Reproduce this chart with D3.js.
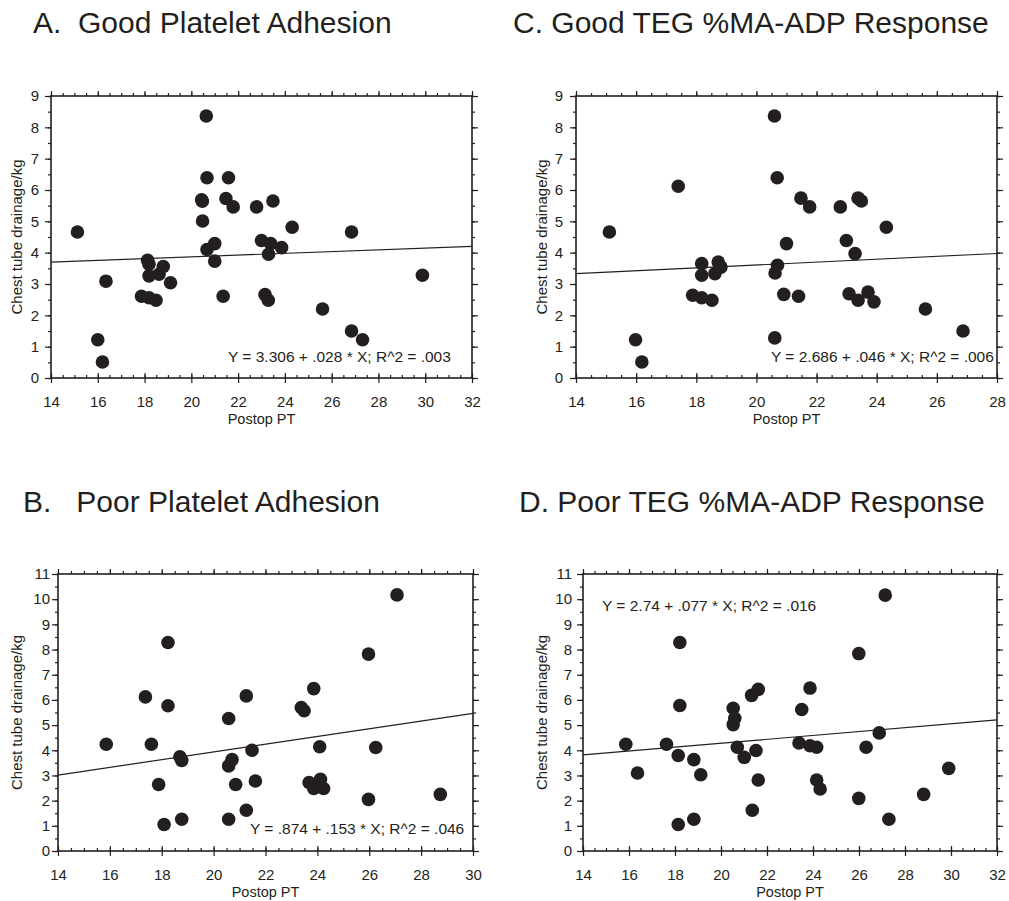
<!DOCTYPE html>
<html>
<head>
<meta charset="utf-8">
<script src="https://cdn.jsdelivr.net/npm/d3@7"></script>
<style>
body { margin: 0; background: #fff; }
svg { display: block; font-family: "Liberation Sans", Arial, sans-serif; }
</style>
</head>
<body>
<svg id="chart" width="1009" height="901"></svg>
<script>
// titles and labels
var titles = ["A.  Good Platelet Adhesion", "C. Good TEG %MA-ADP Response",
              "B.   Poor Platelet Adhesion", "D. Poor TEG %MA-ADP Response"];
var xLabel = "Postop PT";
var yLabel = "Chest tube drainage/kg";

// A. good platelet adhesion
var aX = [15.13, 16.0, 16.2, 16.35, 17.87, 18.13, 18.19, 18.19, 18.19, 18.49, 18.62, 18.8, 19.11,
          20.47, 20.44, 20.48, 20.64, 20.67, 20.67, 21.0, 21.0, 21.36, 21.48, 21.59, 21.79, 22.79,
          23.0, 23.15, 23.29, 23.39, 23.3, 23.49, 23.86, 24.31, 25.61, 26.85, 26.85, 27.32, 29.88];
var aY = [4.66, 1.22, 0.51, 3.09, 2.61, 3.76, 3.63, 3.26, 2.56, 2.48, 3.31, 3.56, 3.04,
          5.64, 5.69, 5.01, 8.36, 6.39, 4.10, 4.29, 3.73, 2.61, 5.73, 6.39, 5.46, 5.46,
          4.39, 2.66, 2.48, 4.29, 3.95, 5.65, 4.16, 4.81, 2.2, 4.66, 1.5, 1.22, 3.28];

// C. good TEG response
var cX = [15.11, 15.98, 16.19, 17.4, 17.88, 18.18, 18.18, 18.18, 18.52, 18.62, 18.73, 18.82,
          20.6, 20.62, 20.7, 20.69, 20.61, 20.91, 21.0, 21.4, 21.48, 21.77, 22.79, 22.99, 23.08,
          23.28, 23.38, 23.38, 23.49, 23.71, 23.91, 24.32, 25.62, 26.87];
var cY = [4.66, 1.22, 0.51, 6.12, 2.64, 3.65, 3.28, 2.56, 2.48, 3.33, 3.7, 3.54,
          8.36, 3.35, 3.6, 6.39, 1.28, 2.67, 4.29, 2.61, 5.74, 5.46, 5.46, 4.39, 2.69,
          3.97, 2.48, 5.74, 5.65, 2.74, 2.43, 4.81, 2.2, 1.5];

// B. poor platelet adhesion
var bX = [15.86, 17.37, 17.6, 17.88, 18.09, 18.24, 18.24, 18.7, 18.77, 18.77, 20.58, 20.58,
          20.71, 20.58, 20.85, 21.26, 21.26, 21.48, 21.61, 23.38, 23.49, 23.68, 23.86, 23.86,
          24.09, 24.12, 24.24, 25.97, 25.97, 26.25, 27.07, 28.74];
var bY = [4.24, 6.12, 4.24, 2.64, 1.05, 8.28, 5.77, 3.74, 3.6, 1.26, 5.26, 3.38,
          3.63, 1.26, 2.64, 6.16, 1.62, 4.0, 2.78, 5.7, 5.57, 2.72, 6.45, 2.48,
          4.14, 2.85, 2.48, 2.05, 7.82, 4.11, 10.17, 2.25];

// D. poor TEG response
var dX = [15.86, 16.37, 17.63, 18.14, 18.21, 18.21, 18.14, 18.82, 18.82, 19.12, 20.53, 20.6,
          20.53, 20.71, 21.01, 21.33, 21.62, 21.36, 21.52, 21.62, 23.39, 23.51, 23.87, 23.87,
          24.16, 24.16, 24.31, 25.99, 25.99, 26.31, 26.88, 27.14, 27.3, 28.81, 29.9];
var dY = [4.24, 3.1, 4.24, 3.79, 8.28, 5.78, 1.05, 3.63, 1.26, 3.03, 5.67, 5.27,
          5.02, 4.12, 3.72, 6.18, 6.42, 1.62, 3.99, 2.82, 4.29, 5.62, 6.47, 4.18,
          4.12, 2.82, 2.46, 7.84, 2.09, 4.12, 4.69, 10.16, 1.26, 2.25, 3.28];

// fitted lines
var intercepts = [3.306, 2.686, 0.874, 2.74];
var slopes = [0.028, 0.046, 0.153, 0.077];
var equations = ["Y = 3.306 + .028 * X; R^2 = .003", "Y = 2.686 + .046 * X; R^2 = .006",
                 "Y = .874 + .153 * X; R^2 = .046", "Y = 2.74 + .077 * X; R^2 = .016"];

var xDomains = [[14, 32], [14, 28], [14, 30], [14, 32]];
var yDomains = [[0, 9], [0, 9], [0, 11], [0, 11]];

var xs = [aX, cX, bX, dX];
var ys = [aY, cY, bY, dY];

// where each panel sits on the page
var layout = [
  {left: 51, right: 472, top: 96, bottom: 378, titleX: 33, titleY: 33, yPad: 6, yLabX: 22, eqX: 228, eqY: 362},
  {left: 576, right: 997, top: 96, bottom: 378, titleX: 513, titleY: 33, yPad: 7, yLabX: 547, eqX: 771, eqY: 362},
  {left: 58, right: 473, top: 574, bottom: 851, titleX: 23, titleY: 512, yPad: 2, yLabX: 22, eqX: 250, eqY: 834},
  {left: 583, right: 997, top: 574, bottom: 851, titleX: 519, titleY: 512, yPad: 5, yLabX: 547, eqX: 602, eqY: 611}
];

var ink = "#231f20";
var svg = d3.select("#chart");

function styleAxis(g) {
  g.attr("font-family", null).attr("font-size", 15);
  g.select(".domain").remove();
  g.selectAll("line").attr("stroke", ink).attr("stroke-width", 1.2);
  g.selectAll("text").attr("fill", ink);
}

layout.forEach(function (p, i) {
  var w = p.right - p.left, h = p.bottom - p.top;
  var x = d3.scaleLinear().domain(xDomains[i]).range([0, w]);
  var y = d3.scaleLinear().domain(yDomains[i]).range([h, 0]);
  var xMajor = d3.range(xDomains[i][0], xDomains[i][1] + 0.01, 2);
  var xMinor = d3.range(xDomains[i][0], xDomains[i][1] + 0.01, 0.5);
  var yMajor = d3.range(yDomains[i][0], yDomains[i][1] + 0.01, 1);
  var yMinor = d3.range(yDomains[i][0], yDomains[i][1] + 0.01, 0.5);

  // title
  svg.append("text")
    .attr("x", p.titleX).attr("y", p.titleY)
    .attr("xml:space", "preserve").style("white-space", "pre")
    .attr("font-size", 30).attr("fill", ink)
    .text(titles[i]);

  var g = svg.append("g").attr("transform", "translate(" + p.left + "," + p.top + ")");

  // bottom axis: inner minor ticks, crossing major ticks with labels
  g.append("g").attr("transform", "translate(0," + h + ")")
    .call(d3.axisBottom(x).tickValues(xMinor).tickSize(-3).tickFormat(""))
    .call(styleAxis);
  g.append("g").attr("transform", "translate(0," + h + ")")
    .call(d3.axisBottom(x).tickValues(xMajor).tickSize(-5).tickFormat(""))
    .call(styleAxis);
  g.append("g").attr("transform", "translate(0," + h + ")")
    .call(d3.axisBottom(x).tickValues(xMajor).tickSize(5).tickPadding(13).tickFormat(d3.format("d")))
    .call(styleAxis);

  // top axis
  g.append("g").call(d3.axisTop(x).tickValues(xMinor).tickSize(3).tickFormat("")).call(styleAxis);
  g.append("g").call(d3.axisTop(x).tickValues(xMajor).tickSize(5).tickFormat("")).call(styleAxis);

  // left axis
  g.append("g").call(d3.axisLeft(y).tickValues(yMinor).tickSize(3).tickFormat("")).call(styleAxis);
  g.append("g").call(d3.axisLeft(y).tickValues(yMajor).tickSize(6).tickPadding(p.yPad).tickFormat(d3.format("d")))
    .call(styleAxis);

  // right axis
  g.append("g").attr("transform", "translate(" + w + ",0)")
    .call(d3.axisRight(y).tickValues(yMinor).tickSize(3).tickFormat("")).call(styleAxis);
  g.append("g").attr("transform", "translate(" + w + ",0)")
    .call(d3.axisRight(y).tickValues(yMajor).tickSize(6).tickFormat("")).call(styleAxis);

  // frame
  g.append("rect").attr("width", w).attr("height", h)
    .attr("fill", "none").attr("stroke", ink).attr("stroke-width", 1.6);

  // regression line
  var line = d3.line().x(function (d) { return x(d); })
    .y(function (d) { return y(intercepts[i] + slopes[i] * d); });
  g.append("path").datum(xDomains[i])
    .attr("d", line).attr("fill", "none").attr("stroke", ink).attr("stroke-width", 1.2);

  // points
  g.selectAll("circle.pt").data(xs[i]).enter().append("circle")
    .attr("class", "pt")
    .attr("cx", function (d) { return x(d); })
    .attr("cy", function (d, j) { return y(ys[i][j]); })
    .attr("r", 6.8).attr("fill", ink);

  // equation
  svg.append("text").attr("x", p.eqX).attr("y", p.eqY)
    .attr("font-size", 15.5).attr("fill", ink).text(equations[i]);

  // axis titles
  svg.append("text").attr("x", p.left + w / 2).attr("y", p.bottom + 46)
    .attr("text-anchor", "middle").attr("font-size", 14.5).attr("fill", ink).text(xLabel);
  svg.append("text")
    .attr("transform", "translate(" + p.yLabX + "," + (p.top + h / 2) + ") rotate(-90)")
    .attr("text-anchor", "middle").attr("font-size", 15).attr("fill", ink).text(yLabel);
});
</script>
</body>
</html>
